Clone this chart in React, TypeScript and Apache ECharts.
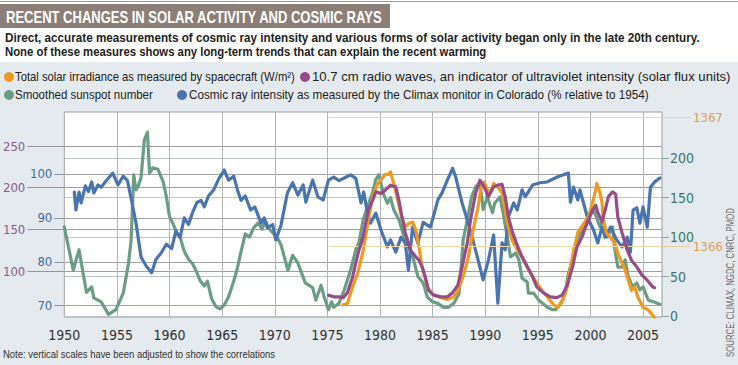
import React, { useEffect, useRef } from 'react';
import * as echarts from 'echarts';

// ---------- tick values ----------
const yearTicks = [1950, 1955, 1960, 1965, 1970, 1975, 1980, 1985, 1990, 1995, 2000, 2005];
const radioTicks = [100, 150, 200, 250];
const cosmicTicks = [70, 80, 90, 100];
const sunspotTicks = [0, 50, 100, 150, 200];
const tsiTicks = [1366, 1367];

// ---------- series (year, value) ----------
const cosmicRay: [number, number][] = [
  [1950.95, 95.9], [1951.1, 91.8], [1951.4, 95.9], [1951.6, 93.4], [1952.0, 97.3], [1952.3, 96], [1952.6, 98.2],
  [1952.8, 95.7], [1953.2, 97.5], [1953.5, 97.0], [1954.0, 98.5], [1954.6, 100.2], [1955.1, 97.5], [1955.6, 99.5],
  [1956.0, 98.5], [1956.3, 95], [1956.8, 89], [1957.3, 81], [1957.8, 79], [1958.3, 77.5], [1958.7, 80.5],
  [1959.2, 82], [1959.7, 84], [1960.2, 83], [1960.6, 87], [1961.0, 85.5], [1961.4, 90], [1961.8, 88.5],
  [1962.2, 91.3], [1962.6, 93.5], [1963.0, 94], [1963.3, 92.5], [1963.7, 95], [1964.2, 96.4], [1964.7, 99],
  [1965.2, 100.9], [1965.6, 98.6], [1966.1, 99.5], [1966.5, 96], [1966.8, 94], [1967.2, 95], [1967.7, 91.8],
  [1968.1, 92.5], [1968.7, 88.8], [1969.0, 90], [1969.3, 87.7], [1969.8, 88.5], [1970.1, 85], [1970.6, 88.4],
  [1971.2, 95.7], [1971.7, 98], [1972.2, 95.2], [1972.7, 97.5], [1972.95, 93.6], [1973.6, 98.6], [1974.1, 94.8],
  [1974.6, 94.1], [1975.1, 98.6], [1975.6, 99.3], [1976.1, 98.5], [1976.6, 99.1], [1977.2, 99.8], [1977.7, 99],
  [1978.2, 93.4], [1978.45, 95.9], [1978.8, 91.3], [1979.1, 88.8], [1979.6, 91.1], [1980.1, 87.2], [1980.7, 83.4],
  [1981.0, 85], [1981.5, 82.2], [1982.0, 85.6], [1982.4, 84.3], [1982.7, 78.1], [1983.1, 87.9], [1983.6, 84.3],
  [1984.1, 89], [1984.8, 87.9], [1985.5, 94.1], [1985.9, 95.7], [1986.4, 98.6], [1986.7, 100.2], [1986.9, 101.3],
  [1987.2, 99.3], [1987.8, 93.4], [1988.3, 89.5], [1988.9, 84.3], [1989.4, 79.7], [1989.8, 75.9], [1990.3, 80.4],
  [1990.8, 86.1], [1991.2, 70.6], [1991.6, 84.3], [1991.9, 82.7], [1992.2, 90.2], [1992.7, 93.4], [1993.05, 91.8],
  [1993.5, 96.4], [1993.8, 94.8], [1994.5, 97.5], [1995.2, 98], [1995.9, 98.2], [1996.4, 98.8], [1996.85, 99.3],
  [1997.4, 99.8], [1997.9, 100.2], [1998.1, 93.6], [1998.4, 97], [1998.8, 94.1], [1999.0, 96.4], [1999.7, 90.2],
  [2000.3, 87.2], [2000.7, 84.3], [2001.1, 87.9], [2001.4, 85.6], [2001.9, 87.9], [2002.5, 85], [2003.0, 83.4],
  [2003.5, 85.6], [2003.8, 82.2], [2004.05, 91.8], [2004.4, 92.3], [2004.7, 88.8], [2005.0, 92.5], [2005.4, 87.9],
  [2005.7, 97], [2006.1, 98.2], [2006.6, 99.1],
];

const sunspot: [number, number][] = [
  [1950.0, 113], [1950.85, 58], [1951.4, 84], [1952.1, 30], [1952.6, 37], [1952.8, 23], [1953.5, 18], [1954.2, 2],
  [1954.9, 8], [1955.6, 29], [1956.1, 67], [1956.35, 96], [1956.6, 179], [1956.8, 160], [1957.0, 164], [1957.3, 176],
  [1957.6, 223], [1957.9, 233], [1958.1, 181], [1958.4, 188], [1958.9, 186], [1959.4, 170], [1959.7, 151],
  [1960.0, 126], [1960.3, 118], [1960.7, 105], [1961.0, 100], [1961.4, 82], [1961.8, 72], [1962.2, 66], [1962.5, 58],
  [1962.9, 45], [1963.3, 38], [1963.6, 44], [1964.0, 22], [1964.4, 12], [1964.8, 9], [1965.2, 14], [1965.6, 24],
  [1966.0, 40], [1966.4, 58], [1966.8, 82], [1967.2, 104], [1967.6, 100], [1968.0, 112], [1968.4, 118], [1968.8, 110],
  [1969.1, 121], [1969.5, 110], [1969.9, 104], [1970.3, 98], [1970.6, 90], [1971.25, 58], [1971.7, 77], [1972.2, 67],
  [1972.9, 42], [1973.6, 36], [1973.9, 20], [1974.4, 39], [1974.7, 24], [1975.1, 8], [1975.4, 18], [1975.6, 11],
  [1976.1, 16], [1976.6, 33], [1977.2, 58], [1977.7, 84], [1978.0, 93], [1978.4, 122], [1978.8, 138], [1979.3, 157],
  [1979.6, 173], [1979.9, 179], [1980.3, 156], [1980.7, 143], [1981.0, 150], [1981.3, 135], [1981.8, 122],
  [1982.3, 100], [1982.7, 88], [1983.2, 71], [1983.6, 50], [1984.1, 42], [1984.5, 24], [1985.0, 18], [1985.5, 16],
  [1986.0, 11], [1986.5, 11], [1987.0, 16], [1987.5, 28], [1987.7, 60], [1987.9, 96], [1988.3, 122], [1988.7, 151],
  [1989.1, 164], [1989.5, 169], [1989.8, 135], [1990.2, 151], [1990.7, 131], [1990.9, 143], [1991.4, 151],
  [1991.7, 131], [1992.1, 100], [1992.4, 75], [1992.9, 80], [1993.2, 71], [1993.5, 48], [1994.0, 43], [1994.1, 29],
  [1994.6, 29], [1995.1, 20], [1995.9, 11], [1996.4, 8], [1996.7, 8], [1997.2, 16], [1997.6, 29], [1997.9, 54],
  [1998.4, 75], [1998.7, 93], [1999.0, 105], [1999.5, 113], [2000.0, 128], [2000.3, 135], [2000.6, 124],
  [2000.9, 113], [2001.2, 122], [2001.6, 100], [2002.1, 113], [2002.3, 86], [2002.6, 62], [2003.0, 62],
  [2003.3, 71], [2003.6, 50], [2004.0, 37], [2004.4, 42], [2004.7, 33], [2005.0, 37], [2005.5, 20], [2006.0, 18],
  [2006.6, 15],
];

const radioFlux: [number, number][] = [
  [1975.1, 71], [1975.6, 69], [1976.1, 69], [1976.5, 68], [1976.9, 74], [1977.4, 93], [1977.7, 110], [1978.0, 125],
  [1978.4, 141], [1978.6, 155], [1978.9, 173], [1979.3, 185], [1979.6, 195], [1980.1, 193], [1980.5, 197],
  [1981.0, 203], [1981.5, 201], [1981.8, 185], [1982.1, 164], [1982.4, 146], [1982.9, 125], [1983.4, 117],
  [1983.7, 113], [1984.0, 105], [1984.3, 93], [1984.6, 77], [1985.1, 71], [1985.8, 69], [1986.4, 69], [1986.9, 74],
  [1987.4, 83], [1987.8, 105], [1988.3, 134], [1988.6, 161], [1989.1, 194], [1989.5, 209], [1989.9, 201],
  [1990.3, 189], [1990.8, 201], [1991.2, 203], [1991.6, 204], [1991.9, 189], [1992.2, 165], [1992.6, 146],
  [1993.1, 129], [1993.5, 117], [1994.0, 105], [1994.5, 93], [1994.9, 81], [1995.5, 74], [1996.2, 69], [1996.8, 68],
  [1997.3, 71], [1997.8, 83], [1998.3, 105], [1998.7, 128], [1999.2, 141], [1999.7, 158], [2000.2, 173],
  [2000.5, 179], [2000.7, 170], [2001.1, 159], [2001.4, 173], [2001.7, 189], [2002.1, 195], [2002.4, 192],
  [2002.6, 165], [2003.0, 146], [2003.5, 125], [2003.9, 113], [2004.4, 105], [2004.9, 95], [2005.4, 89],
  [2005.9, 81], [2006.1, 80],
];

const solarIrradiance: [number, number][] = [
  [1976.5, 1365.55], [1976.9, 1365.56], [1977.4, 1365.69], [1977.9, 1365.8], [1978.4, 1365.97], [1978.9, 1366.21],
  [1979.3, 1366.39], [1979.8, 1366.49], [1980.1, 1366.52], [1980.5, 1366.56], [1980.8, 1366.56], [1981.0, 1366.58],
  [1981.3, 1366.49], [1981.7, 1366.36], [1981.96, 1366.26], [1982.4, 1366.15], [1982.7, 1366.18], [1983.1, 1366.19],
  [1983.4, 1366.13], [1983.7, 1366.0], [1984.0, 1365.84], [1984.5, 1365.69], [1985.0, 1365.63], [1985.6, 1365.61],
  [1986.4, 1365.59], [1987.0, 1365.61], [1987.4, 1365.66], [1987.9, 1365.77], [1988.4, 1365.92], [1988.8, 1366.11],
  [1989.3, 1366.3], [1989.6, 1366.46], [1989.9, 1366.5], [1990.2, 1366.44], [1990.5, 1366.42], [1990.8, 1366.49],
  [1991.2, 1366.46], [1991.6, 1366.42], [1991.9, 1366.28], [1992.2, 1366.15], [1992.6, 1366.04], [1993.1, 1365.97],
  [1993.5, 1365.92], [1994.0, 1365.84], [1994.5, 1365.77], [1994.9, 1365.72], [1995.5, 1365.65], [1996.0, 1365.6],
  [1996.5, 1365.55], [1996.9, 1365.53], [1997.4, 1365.59], [1997.8, 1365.69], [1998.1, 1365.84], [1998.4, 1365.97],
  [1998.8, 1366.11], [1999.3, 1366.17], [1999.8, 1366.23], [2000.2, 1366.34], [2000.5, 1366.44], [2000.6, 1366.49],
  [2000.9, 1366.42], [2001.1, 1366.34], [2001.2, 1366.21], [2001.5, 1366.11], [2001.8, 1366.08], [2002.3, 1366.03],
  [2002.6, 1365.95], [2003.0, 1365.87], [2003.3, 1365.82], [2003.6, 1365.74], [2003.9, 1365.66], [2004.2, 1365.69],
  [2004.5, 1365.61], [2005.0, 1365.53], [2005.5, 1365.51], [2005.9, 1365.47], [2006.1, 1365.45],
];

// ---------- texts ----------
const titleText = 'RECENT CHANGES IN SOLAR ACTIVITY AND COSMIC RAYS';
const subtitle1 = 'Direct, accurate measurements of cosmic ray intensity and various forms of solar activity began only in the late 20th century.';
const subtitle2 = 'None of these measures shows any long-term trends that can explain the recent warming';
const nameTSI = 'Total solar irradiance as measured by spacecraft (W/m\u00B2)';
const nameRadio = '10.7 cm radio waves, an indicator of ultraviolet intensity (solar flux units)';
const nameSunspot = 'Smoothed sunspot number';
const nameCosmic = 'Cosmic ray intensity as measured by the Climax monitor in Colorado (% relative to 1954)';
const noteText = 'Note: vertical scales have been adjusted to show the correlations';
const sourceText = 'SOURCE: CLIMAX, NGDC, CNRC, PMOD';

// ---------- style ----------
const ORANGE = '#ef9a1e';
const PURPLE = '#964c87';
const GREEN = '#6b9d84';
const BLUE = '#4a74ae';
const NARROW = "'Liberation Sans Narrow', 'DejaVu Sans Condensed', sans-serif";
const BASE = "'Liberation Sans', Arial, sans-serif";
const plain = (v: number) => String(v);

let measureCtx: CanvasRenderingContext2D | null = null;
function textWidth(text: string, size: number, weight: string) {
  if (!measureCtx) measureCtx = document.createElement('canvas').getContext('2d');
  measureCtx!.font = `${weight} ${size}px ${BASE}`;
  return measureCtx!.measureText(text).width || 1;
}

function fitText(text: string, x: number, y: number, width: number, size: number, weight: string, fill: string, extra: any = {}) {
  const w = textWidth(text, size, weight);
  return {
    type: 'text',
    x,
    y,
    scaleX: width / w,
    silent: true,
    style: { text, fontSize: size, fontWeight: weight, fontFamily: BASE, fill, align: 'left', verticalAlign: 'middle' },
    ...extra,
  };
}

function legendItem(color: string, text: string, cx: number, cy: number, textX: number, textW: number) {
  return [
    { type: 'circle', shape: { cx, cy, r: 5 }, style: { fill: color }, silent: true },
    fitText(text, textX, cy, textW, 13, 'normal', '#222'),
  ];
}

function lineSeries(name: string, data: [number, number][], yAxisIndex: number, color: string, z: number, extra: any = {}) {
  return {
    name,
    type: 'line',
    data,
    yAxisIndex,
    symbol: 'none',
    z,
    lineStyle: { color, width: 3.2, cap: 'round', join: 'round' },
    itemStyle: { color },
    ...extra,
  };
}

export default function App() {
  const ref = useRef<HTMLDivElement>(null);

  useEffect(() => {
    document.body.style.margin = '0';
    if (!ref.current) return;
    const chart = echarts.init(ref.current, undefined, { renderer: 'svg' });

    const xMax = 2006.8;
    const option: any = {
      animation: false,
      grid: {
        left: 63, right: 76, top: 112, bottom: 48,
        show: true, backgroundColor: '#ffffff', borderColor: '#9c9c9c', borderWidth: 1,
      },
      xAxis: {
        type: 'value', min: 1950, max: xMax,
        axisLine: { show: false },
        axisTick: { show: false, customValues: yearTicks },
        axisLabel: { customValues: yearTicks, formatter: plain, color: '#333', fontSize: 14, fontFamily: NARROW, margin: 11 },
        splitLine: { show: true, lineStyle: { color: '#b4b4b4', width: 1 } },
      },
      yAxis: [
        {
          type: 'value', position: 'left', min: 44.8, max: 290.8,
          axisLine: { show: false },
          axisTick: { show: true, length: 37, customValues: radioTicks, lineStyle: { color: '#9b929b' } },
          axisLabel: { customValues: radioTicks, formatter: plain, color: '#8c5c86', fontSize: 13, fontFamily: NARROW, margin: 39 },
          splitLine: { show: true, lineStyle: { color: '#a39ca3', width: 1 } },
        },
        {
          type: 'value', position: 'left', min: 67.43, max: 114.12,
          axisLine: { show: false },
          axisTick: { show: true, length: 10, customValues: cosmicTicks, lineStyle: { color: '#8e98a6' } },
          axisLabel: { customValues: cosmicTicks, formatter: plain, color: '#3a6ea6', fontSize: 13, fontFamily: NARROW, margin: 12 },
          splitLine: { show: true, lineStyle: { color: '#a0a4aa', width: 1 } },
        },
        {
          type: 'value', position: 'right', min: -1.27, max: 258.7,
          axisLine: { show: false },
          axisTick: { show: true, length: 7, customValues: sunspotTicks, lineStyle: { color: '#8fa39b' } },
          axisLabel: { customValues: sunspotTicks, formatter: plain, color: '#3d7666', fontSize: 14, fontFamily: NARROW, margin: 8 },
          splitLine: { show: true, lineStyle: { color: '#bcc6c2', width: 1 } },
        },
        {
          type: 'value', position: 'right', min: 1365.455, max: 1367.044,
          axisLine: { show: false },
          axisTick: { show: true, length: 28, customValues: tsiTicks, lineStyle: { color: '#e8cfa5' } },
          axisLabel: { customValues: tsiTicks, formatter: plain, color: '#d9a055', fontSize: 13, fontFamily: NARROW, margin: 31 },
          splitLine: { show: false },
        },
      ],
      series: [
        lineSeries(nameSunspot, sunspot, 2, GREEN, 2),
        lineSeries(nameCosmic, cosmicRay, 1, BLUE, 3),
        lineSeries(nameTSI, solarIrradiance, 3, ORANGE, 4, {
          markLine: {
            silent: true,
            symbol: 'none',
            label: { show: false },
            lineStyle: { color: '#efd7a8', width: 1, type: 'solid' },
            data: tsiTicks.map((v) => [{ coord: [1975.1, v] }, { coord: [xMax, v] }]),
          },
        }),
        lineSeries(nameRadio, radioFlux, 0, PURPLE, 5),
      ],
      graphic: [
        { type: 'line', shape: { x1: 0, y1: 1.5, x2: 738, y2: 1.5 }, style: { stroke: '#9a9a9a', lineWidth: 1 }, silent: true },
        { type: 'rect', shape: { x: 0, y: 4, width: 390, height: 24 }, style: { fill: '#8c7f78' }, silent: true },
        fitText(titleText, 6, 16.5, 377, 17, 'bold', '#ffffff'),
        fitText(subtitle1, 5, 38, 695, 13, 'bold', '#222'),
        fitText(subtitle2, 5, 52, 482, 13, 'bold', '#222'),
        ...legendItem(ORANGE, nameTSI, 9, 77, 15, 280),
        ...legendItem(PURPLE, nameRadio, 305, 77, 312, 419),
        ...legendItem(GREEN, nameSunspot, 9, 95, 15, 138),
        ...legendItem(BLUE, nameCosmic, 182, 95, 189, 460),
        fitText(noteText, 3, 354, 272, 11, 'normal', '#333'),
        fitText(sourceText, 731, 357, 149, 10, 'normal', '#666', { rotation: Math.PI / 2 }),
      ],
    };

    chart.setOption(option);
    return () => chart.dispose();
  }, []);

  return (
    <div
      ref={ref}
      style={{
        width: 738,
        height: 365,
        background: 'linear-gradient(to bottom, #ffffff 0px, #ffffff 62px, #e5eaee 62px, #e5eaee 365px)',
      }}
    />
  );
}
